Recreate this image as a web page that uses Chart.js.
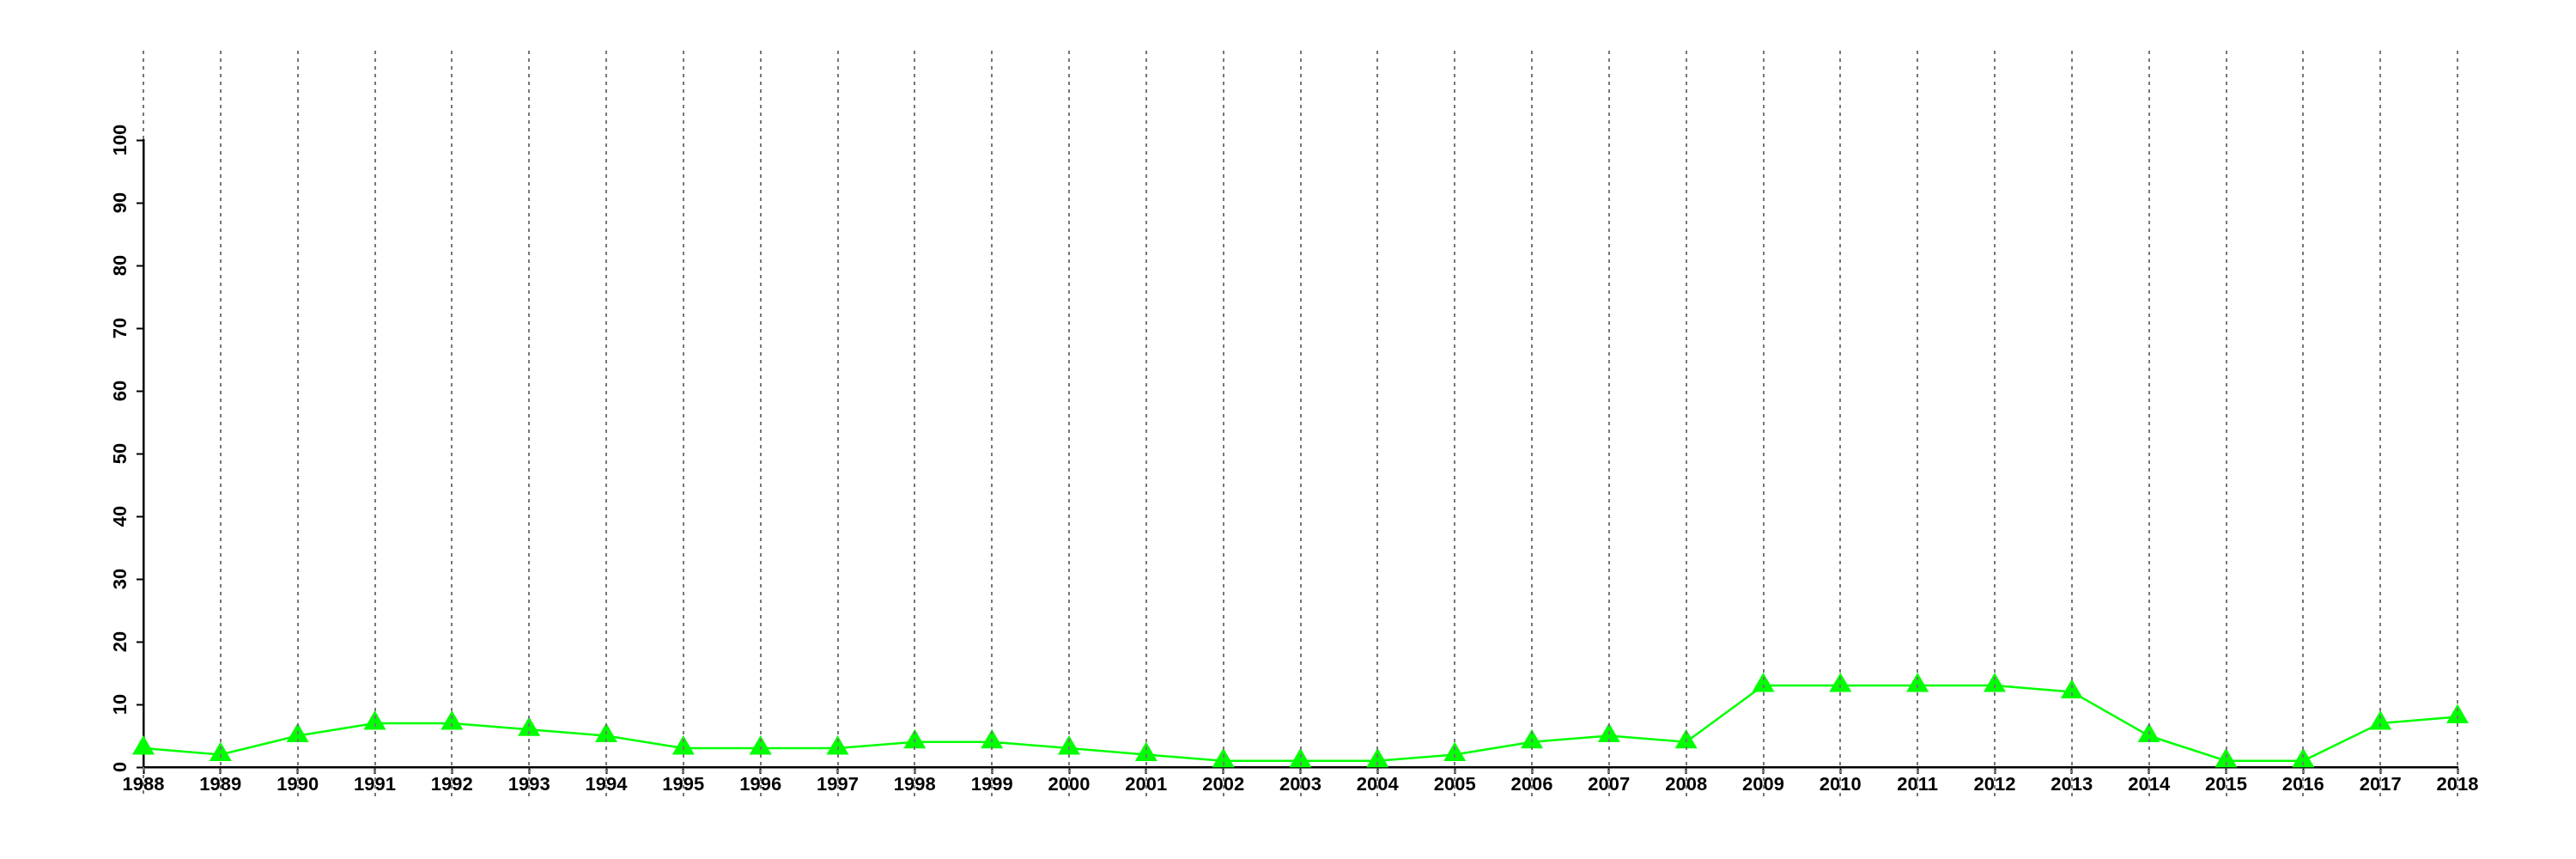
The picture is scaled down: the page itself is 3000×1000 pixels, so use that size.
<!DOCTYPE html>
<html>
<head>
<meta charset="utf-8">
<script src="https://cdn.jsdelivr.net/npm/chart.js@4/dist/chart.umd.min.js"></script>
<style>
  body { margin: 0; background: #fff; }
  canvas { display: block; }
</style>
</head>
<body>
<canvas id="chart" width="3000" height="1000"></canvas>
<script>
// years on the x axis
const years = ['1988', '1989', '1990', '1991', '1992', '1993', '1994', '1995', '1996', '1997',
  '1998', '1999', '2000', '2001', '2002', '2003', '2004', '2005', '2006', '2007',
  '2008', '2009', '2010', '2011', '2012', '2013', '2014', '2015', '2016', '2017', '2018'];

// values
const values = [3, 2, 5, 7, 7, 6, 5, 3, 3, 3,
  4, 4, 3, 2, 1, 1, 1, 2, 4, 5,
  4, 13, 13, 13, 13, 12, 5, 1, 1, 7, 8];

// y axis range
const yMin = 0;
const yMax = 100;
const yStep = 10;

const tickFont = { family: "'Liberation Sans', Arial, sans-serif", size: 22, weight: 'bold' };

// dotted vertical lines, they run above the plot and down through the labels
const dottedLines = {
  id: 'dottedLines',
  afterDatasetsDraw(chart) {
    const ctx = chart.ctx;
    const xScale = chart.scales.x;
    const area = chart.chartArea;
    const top = area.top - 104;
    const bottom = area.bottom + 34;
    ctx.save();
    ctx.strokeStyle = '#777777';
    ctx.lineWidth = 2;
    ctx.setLineDash([4, 5]);
    years.forEach((y, i) => {
      const px = Math.round(xScale.getPixelForValue(i));
      ctx.beginPath();
      if (i === 0) {
        // the y axis line sits here, keep it solid
        ctx.moveTo(px, top);
        ctx.lineTo(px, area.top);
        ctx.moveTo(px, area.bottom);
        ctx.lineTo(px, bottom);
      } else {
        ctx.moveTo(px, top);
        ctx.lineTo(px, bottom);
      }
      ctx.stroke();
    });
    ctx.restore();
  }
};

new Chart('chart', {
  type: 'line',
  data: {
    labels: years,
    datasets: [{
      data: values,
      borderColor: '#00ff00',
      backgroundColor: '#00ff00',
      borderWidth: 2.5,
      tension: 0,
      fill: false,
      pointStyle: 'triangle',
      pointRadius: 15,
      pointBorderWidth: 0,
      clip: false
    }]
  },
  options: {
    responsive: false,
    animation: false,
    layout: {
      padding: { left: 107, right: 138, top: 163, bottom: 47 }
    },
    plugins: {
      legend: { display: false },
      tooltip: { enabled: false }
    },
    scales: {
      x: {
        type: 'category',
        offset: false,
        grid: {
          drawOnChartArea: false,
          drawTicks: true,
          tickLength: 8,
          tickColor: '#000',
          tickWidth: 2
        },
        border: { display: true, color: '#000', width: 2.5 },
        ticks: {
          color: '#000',
          font: tickFont,
          padding: 0,
          maxRotation: 0,
          autoSkip: false
        },
        afterFit(scale) { scale.height = 60; }
      },
      y: {
        min: yMin,
        max: yMax,
        grid: {
          drawOnChartArea: false,
          drawTicks: true,
          tickLength: 8,
          tickColor: '#000',
          tickWidth: 2
        },
        border: { display: true, color: '#000', width: 2.5 },
        ticks: {
          stepSize: yStep,
          color: '#000',
          font: tickFont,
          minRotation: 90,
          maxRotation: 90,
          crossAlign: 'center',
          padding: 0
        },
        afterFit(scale) { scale.width = 60; }
      }
    }
  },
  plugins: [dottedLines]
});
</script>
</body>
</html>
